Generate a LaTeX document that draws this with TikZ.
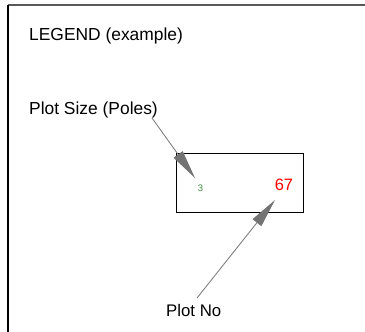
\documentclass[tikz,border=0pt]{standalone}
\usepackage{fontspec}
\setmainfont{Liberation Sans}
\usetikzlibrary{positioning}
\usetikzlibrary{arrows.meta}

\begin{document}
\begin{tikzpicture}[
    x=1pt, y=-1pt,
    legendtext/.style={inner sep=0pt, anchor=base west, font=\fontsize{17.4}{20}\selectfont},
    plotbox/.style={draw=black, line width=1pt},
    pointer/.style={draw=gray, line width=0.9pt,
      -{Triangle[length=29pt,width=11pt,fill=gray!90!black,color=gray!90!black]}}
    ]

    \useasboundingbox (0,0) rectangle (365,332);

    % frame
    \draw[gray!70!black, line width=1.6pt] (8,5) -- (365,5);
    \draw[black, line width=1.2pt] (8,5) -- (8,332);

    \node[legendtext] (legend) at (29,41) {LEGEND (example)};
    \node[legendtext] (size) at (29,114) {Plot Size (Poles)};
    \node[legendtext, font=\fontsize{16.8}{20}\selectfont] (plotno) at (166,316) {Plot No};

    \node[plotbox, minimum width=127pt, minimum height=59pt, inner sep=0pt] (plot) at (239.5,182.5) {};
    \node[inner sep=0pt, anchor=base, text={rgb,255:red,60;green,140;blue,60},
      font=\fontsize{9.5}{10}\selectfont] (poles) at (200.5,191) {3};
    \node[inner sep=0pt, anchor=base, text=red,
      font=\fontsize{16.5}{18}\selectfont] (num) at (284,190) {67};

    \coordinate (sizeend) at (152,118);
    \coordinate (polestip) at (195,178);
    \coordinate (noend) at (197,298);
    \coordinate (numtip) at (275,200);

    \path (sizeend) edge[pointer] (polestip)
    (noend) edge[pointer] (numtip)
    ;

  \end{tikzpicture}
\end{document}
